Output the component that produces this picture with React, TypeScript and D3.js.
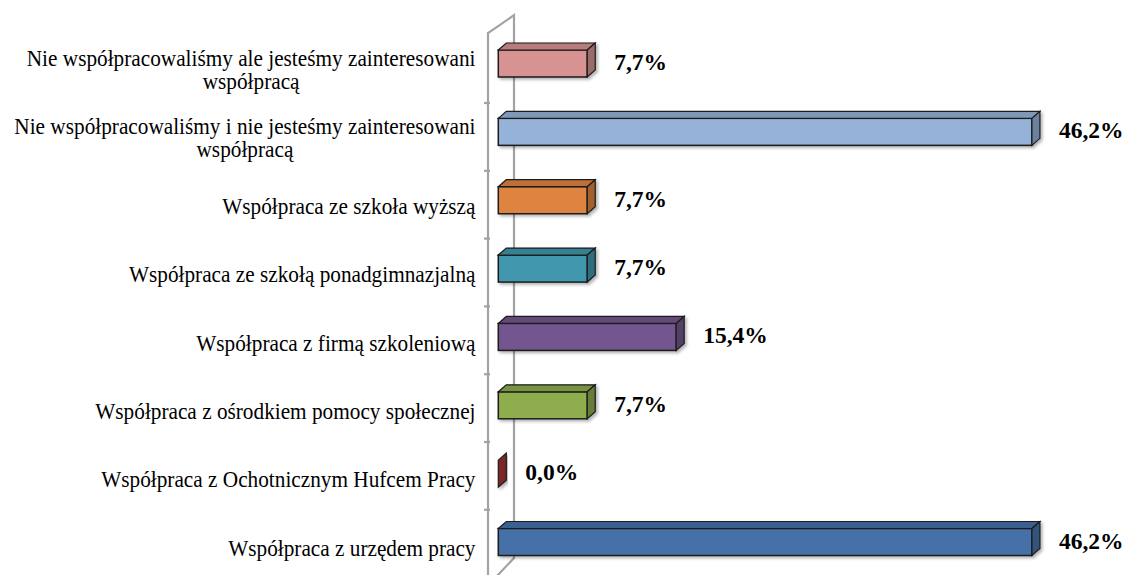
import React, { useEffect, useRef } from "react";
import * as d3 from "d3";

// ---- data ----
const categoryLines: string[][] = [
  ["Nie współpracowaliśmy ale jesteśmy zainteresowani", "współpracą"],
  ["Nie współpracowaliśmy i nie jesteśmy zainteresowani", "współpracą"],
  ["Współpraca ze szkoła wyższą"],
  ["Współpraca ze szkołą ponadgimnazjalną"],
  ["Współpraca z firmą szkoleniową"],
  ["Współpraca z ośrodkiem pomocy społecznej"],
  ["Współpraca z Ochotnicznym Hufcem Pracy"],
  ["Współpraca z urzędem pracy"],
];
const values: number[] = [7.7, 46.2, 7.7, 7.7, 15.4, 7.7, 0.0, 46.2];
const barColors: string[] = [
  "#D69391",
  "#95B2D8",
  "#DF8440",
  "#3F97AE",
  "#73578F",
  "#8EAD4E",
  "#8A2A2A",
  "#4471A8",
];

const W = 1130;
const H = 575;

export default function App() {
  const ref = useRef<SVGSVGElement | null>(null);

  useEffect(() => {
    const svg = d3.select(ref.current);
    svg.selectAll("*").remove();

    const idx = values.map((_, i) => String(i));
    const x = d3.scaleLinear().domain([0, 50]).range([498.3, 1075.8]);
    const y = d3
      .scaleBand<string>()
      .domain(idx)
      .range([29.3, 576.2])
      .paddingInner(0.605)
      .paddingOuter(0.3025);
    const wallY = d3.scaleBand<string>().domain(idx).range([35.2, 577.6]);
    const dx = 8;
    const dy = 7;

    const defs = svg.append("defs");
    const f = defs
      .append("filter")
      .attr("id", "shadow")
      .attr("x", "-10%")
      .attr("y", "-30%")
      .attr("width", "130%")
      .attr("height", "180%");
    f.append("feDropShadow")
      .attr("dx", 2)
      .attr("dy", 2)
      .attr("stdDeviation", 1.5)
      .attr("flood-color", "#000")
      .attr("flood-opacity", 0.3);

    // ---- wall ----
    const x0 = x(0);
    const frontX = x0 - 10.3;
    const backX = x0 + 15.7;
    const topFront = wallY.range()[0] - 2;
    const wall = svg
      .append("g")
      .attr("stroke", "#A3A3A3")
      .attr("stroke-width", 2.2)
      .attr("fill", "none");
    wall
      .append("path")
      .attr(
        "d",
        `M${frontX},${H + 20}L${frontX},${topFront}L${backX},${topFront - 18}L${backX},${H - 17}L${backX - 17},${H + 1}`
      );
    idx.slice(1).forEach((k) => {
      const yy = wallY(k)!;
      wall
        .append("line")
        .attr("x1", frontX - 4)
        .attr("x2", frontX + 2)
        .attr("y1", yy)
        .attr("y2", yy);
    });

    // ---- bars ----
    const bars = svg.append("g");
    values.forEach((v, i) => {
      const k = String(i);
      const top = y(k)!;
      const bot = top + y.bandwidth();
      const xl = x(0);
      const xr = x(v);
      const c = d3.color(barColors[i])!;
      const g = bars.append("g").attr("filter", "url(#shadow)");
      const stroke = "#1c1c1c";
      if (v > 0) {
        g.append("rect")
          .attr("x", xl)
          .attr("y", top)
          .attr("width", xr - xl)
          .attr("height", bot - top)
          .attr("fill", barColors[i])
          .attr("stroke", stroke)
          .attr("stroke-width", 1.5);
        g.append("path")
          .attr(
            "d",
            `M${xl},${top}L${xl + dx},${top - dy}L${xr + dx},${top - dy}L${xr},${top}Z`
          )
          .attr("fill", c.darker(0.45).formatHex())
          .attr("stroke", stroke)
          .attr("stroke-width", 1.2);
      }
      g.append("path")
        .attr(
          "d",
          `M${xr},${top}L${xr + dx},${top - dy}L${xr + dx},${bot - dy}L${xr},${bot}Z`
        )
        .attr("fill", c.darker(v > 0 ? 0.9 : 0.3).formatHex())
        .attr("stroke", stroke)
        .attr("stroke-width", 1.2);

      // value label
      svg
        .append("text")
        .attr("x", xr + dx + 19)
        .attr("y", (top + bot) / 2 + 6.5)
        .attr("font-family", "'Liberation Serif', 'Times New Roman', serif")
        .attr("font-weight", "bold")
        .attr("font-size", 23.5)
        .attr("fill", "#000")
        .text(d3.format(".1f")(v).replace(".", ",") + "%");

      // category label
      const lines = categoryLines[i];
      const cy = (top + bot) / 2 + 8.5;
      const L = 23.5;
      const lg = svg
        .append("g")
        .attr("transform", `translate(475.5,0) scale(0.925,1)`)
        .attr("font-family", "'Liberation Serif', 'Times New Roman', serif")
        .attr("font-size", 23)
        .attr("fill", "#000");
      const texts = lines.map((ln, j) =>
        lg
          .append("text")
          .attr("y", cy + 5.3 + (j - (lines.length - 1) / 2) * L)
          .text(ln)
      );
      const widths = texts.map((t) => (t.node() as SVGTextElement).getComputedTextLength());
      const maxW = Math.max(...widths);
      texts.forEach((t) => t.attr("x", -maxW / 2).attr("text-anchor", "middle"));
    });
  }, []);

  return (
    <svg
      ref={ref}
      width={W}
      height={H}
      style={{ position: "absolute", left: 0, top: 0, background: "#fff" }}
    />
  );
}
